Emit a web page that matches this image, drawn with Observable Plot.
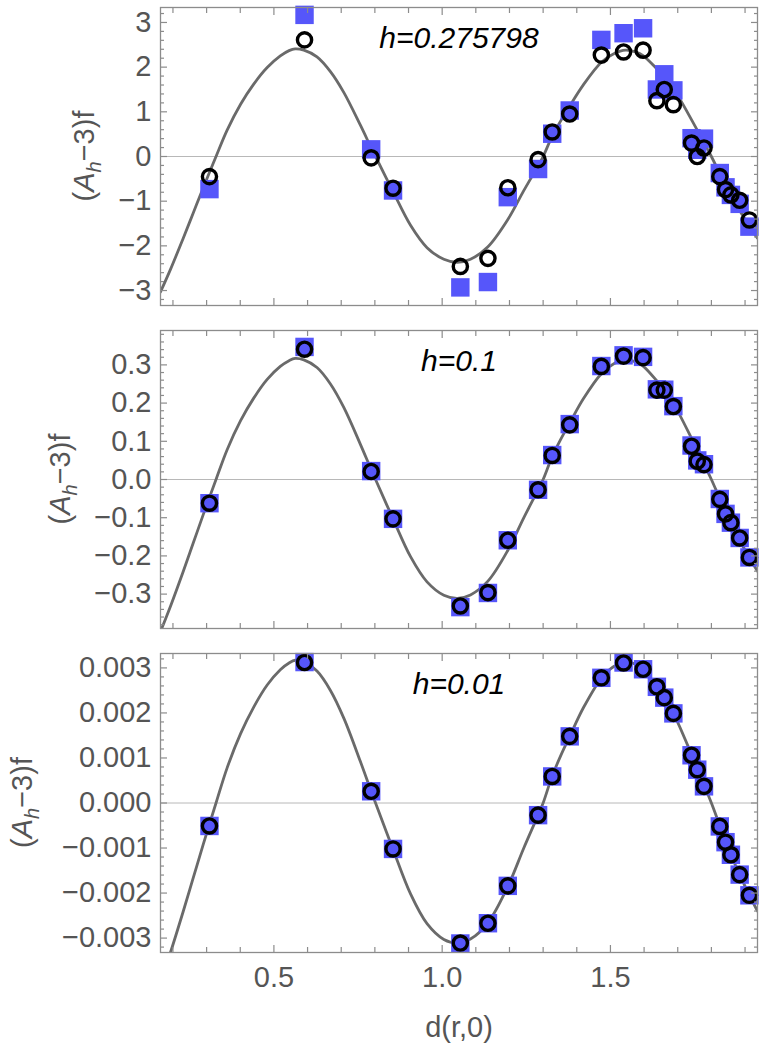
<!DOCTYPE html>
<html><head><meta charset="utf-8">
<script src="https://cdn.jsdelivr.net/npm/d3@7"></script>
<script src="https://cdn.jsdelivr.net/npm/@observablehq/plot@0.6"></script>
<style>
body{margin:0;background:#fff;}
#chart svg{display:block;}
</style></head><body><div id="chart"></div>
<script>
// ---- data ----
const pointD = [0.3085, 0.591, 0.789, 0.854, 1.054, 1.136, 1.195, 1.285, 1.327, 1.379, 1.473, 1.539, 1.597, 1.638, 1.660, 1.687, 1.741, 1.758, 1.778, 1.825, 1.842, 1.858, 1.884, 1.913];

const circ1 = [-0.45, 2.61, -0.03, -0.71, -2.46, -2.28, -0.70, -0.07, 0.55, 0.95, 2.27, 2.34, 2.38, 1.25, 1.50, 1.16, 0.30, 0.00, 0.19, -0.45, -0.74, -0.86, -0.98, -1.42];
const sq1   = [-0.73, 3.17, 0.16, -0.76, -2.93, -2.81, -0.91, -0.28, 0.51, 1.03, 2.61, 2.76, 2.87, 1.50, 1.84, 1.48, 0.41, 0.15, 0.40, -0.37, -0.69, -0.86, -1.06, -1.57];

const circ2 = [-0.062, 0.341, 0.021, -0.103, -0.331, -0.296, -0.159, -0.027, 0.063, 0.143, 0.296, 0.323, 0.319, 0.234, 0.234, 0.191, 0.087, 0.048, 0.039, -0.052, -0.090, -0.113, -0.153, -0.204];
const sq2   = [-0.062, 0.347, 0.022, -0.103, -0.334, -0.297, -0.159, -0.027, 0.064, 0.145, 0.297, 0.325, 0.321, 0.236, 0.235, 0.192, 0.089, 0.050, 0.040, -0.051, -0.090, -0.113, -0.153, -0.204];

const circ3 = [-0.00051, 0.00312, 0.00026, -0.00102, -0.00311, -0.00267, -0.00184, -0.00027, 0.00059, 0.00148, 0.00278, 0.00311, 0.00297, 0.00258, 0.00234, 0.00199, 0.00106, 0.00074, 0.00037, -0.00052, -0.00087, -0.00115, -0.00159, -0.00205];
const sq3   = [-0.00051, 0.00313, 0.00026, -0.00102, -0.00312, -0.00267, -0.00184, -0.00027, 0.00059, 0.00148, 0.00278, 0.00312, 0.00297, 0.00258, 0.00234, 0.00199, 0.00106, 0.00074, 0.00037, -0.00052, -0.00087, -0.00115, -0.00159, -0.00205];

const curveD = [0.163, 0.193, 0.230, 0.260, 0.290, 0.328, 0.361, 0.401, 0.440, 0.480, 0.519, 0.545, 0.563, 0.589, 0.628, 0.668, 0.708, 0.757, 0.790, 0.802, 0.853, 0.906, 0.955, 1.005, 1.045, 1.084, 1.136, 1.196, 1.242, 1.285, 1.300, 1.326, 1.351, 1.379, 1.420, 1.473, 1.510, 1.545, 1.575, 1.597, 1.638, 1.660, 1.688, 1.742, 1.780, 1.800, 1.826, 1.858, 1.884, 1.913, 1.937];
const curve1 = [-3.03, -2.52, -1.84, -1.27, -0.70, 0, 0.59, 1.17, 1.62, 1.99, 2.25, 2.37, 2.41, 2.38, 2.23, 1.90, 1.43, 0.70, 0.18, 0, -0.77, -1.54, -2.04, -2.30, -2.37, -2.30, -2.02, -1.40, -0.77, -0.21, 0, 0.44, 0.78, 1.13, 1.61, 2.11, 2.30, 2.38, 2.34, 2.26, 1.96, 1.78, 1.51, 0.81, 0.28, 0, -0.40, -0.87, -1.21, -1.56, -1.83];
const curve2 = [-0.398, -0.331, -0.242, -0.167, -0.092, 0, 0.078, 0.154, 0.213, 0.262, 0.296, 0.311, 0.317, 0.313, 0.293, 0.250, 0.188, 0.092, 0.024, 0, -0.101, -0.202, -0.268, -0.303, -0.311, -0.302, -0.266, -0.184, -0.101, -0.027, 0, 0.058, 0.103, 0.148, 0.212, 0.277, 0.303, 0.313, 0.308, 0.297, 0.258, 0.234, 0.198, 0.106, 0.037, 0, -0.052, -0.115, -0.159, -0.205, -0.240];
const curve3 = [-0.00398, -0.00331, -0.00242, -0.00167, -0.00092, 0, 0.00078, 0.00154, 0.00213, 0.00262, 0.00296, 0.00311, 0.00317, 0.00313, 0.00293, 0.00250, 0.00188, 0.00092, 0.00024, 0, -0.00101, -0.00202, -0.00268, -0.00303, -0.00311, -0.00302, -0.00266, -0.00184, -0.00101, -0.00027, 0, 0.00058, 0.00103, 0.00148, 0.00212, 0.00277, 0.00303, 0.00313, 0.00308, 0.00297, 0.00258, 0.00234, 0.00198, 0.00106, 0.00037, 0, -0.00052, -0.00115, -0.00159, -0.00205, -0.00240];

const hLabels = ["h=0.275798", "h=0.1", "h=0.01"];
const xMajor = [0.5, 1.0, 1.5];
const xTickLabels = ["0.5", "1.0", "1.5"];
const yMajor1 = [-3, -2, -1, 0, 1, 2, 3];
const yMajor2 = [-0.3, -0.2, -0.1, 0, 0.1, 0.2, 0.3];
const yMajor3 = [-0.003, -0.002, -0.001, 0, 0.001, 0.002, 0.003];
const yLabel = ["(", "A", "h", "−3)f"];
const xLabel = "d(r,0)";

// ---- styling ----
const FONT = "'Liberation Sans', Arial, sans-serif";
const GRAY = "#555";
const FRAME = "#8c8c8c";
const BLUE = "#5656fa";
const XDOM = [0.163, 1.937];

function minors(lo, hi, step, majors) {
  const out = [];
  for (let i = Math.ceil(lo / step - 1e-9); i * step <= hi + 1e-12; i++) {
    const v = +(i * step).toPrecision(8);
    if (!majors.some(m => Math.abs(m - v) < step / 10)) out.push(v);
  }
  return out;
}
const xMinor = minors(0.2, 1.9, 0.1, xMajor);

function tickAxes(yMajor, yMinor) {
  const s = {stroke: FRAME, strokeWidth: 1.2, tickFormat: () => "", label: null};
  return [
    Plot.axisY(yMajor, {...s, anchor: "left", tickSize: 7, dx: 7}),
    Plot.axisY(yMinor, {...s, anchor: "left", tickSize: 4, dx: 4}),
    Plot.axisY(yMajor, {...s, anchor: "right", tickSize: 7, dx: -7}),
    Plot.axisY(yMinor, {...s, anchor: "right", tickSize: 4, dx: -4}),
    Plot.axisX(xMajor, {...s, anchor: "bottom", tickSize: 7, dy: -7}),
    Plot.axisX(xMinor, {...s, anchor: "bottom", tickSize: 5, dy: -5}),
    Plot.axisX(xMajor, {...s, anchor: "top", tickSize: 7, dy: 7}),
    Plot.axisX(xMinor, {...s, anchor: "top", tickSize: 5, dy: 5})
  ];
}

function panel(o) {
  const curveRows = curveD.map((d, i) => ({d, v: o.curve[i]}));
  const pts = pointD.map((d, i) => ({d, sq: o.sq[i], ci: o.circ[i]}));
  const yMinor = minors(o.yDomain[0], o.yDomain[1], o.minorStep, o.yMajor);
  const svg = Plot.plot({
    width: 764, height: o.height,
    marginLeft: 160, marginRight: 7, marginTop: o.marginTop, marginBottom: o.marginBottom,
    style: {fontFamily: FONT, background: "white", overflow: "visible"},
    x: {domain: XDOM, axis: null},
    y: {domain: o.yDomain, axis: null},
    marks: [
      Plot.ruleY([0], {stroke: "#b8b8b8", strokeWidth: 1}),
      Plot.line(curveRows, {x: "d", y: "v", curve: "catmull-rom", stroke: "#6a6a6a", strokeWidth: 2.8, clip: true}),
      Plot.dot(pts, {x: "d", y: "sq", symbol: "square", r: 10.4, fill: BLUE, stroke: null}),
      Plot.dot(pts, {x: "d", y: "ci", r: 7.1, fill: "none", stroke: "black", strokeWidth: 3.4}),
      Plot.frame({stroke: FRAME, strokeWidth: 1.3}),
      ...tickAxes(o.yMajor, yMinor),
      Plot.axisY(o.yMajor, {anchor: "left", tickSize: 0, tickPadding: 9, tickFormat: o.yFormat, fontSize: 29, fill: GRAY, label: null}),
      o.showX ? Plot.axisX(xMajor, {anchor: "bottom", tickSize: 0, tickPadding: 14, tickFormat: (d, i) => xTickLabels[i], fontSize: 29, fill: GRAY, label: null}) : null,
      o.showX ? Plot.text([xLabel], {text: d => d, frameAnchor: "bottom", lineAnchor: "middle", dy: 75, fontSize: 29, fill: GRAY}) : null,
      Plot.text([o.label], {text: d => d, frameAnchor: "top", lineAnchor: "middle", dy: 31, fontSize: 30, fontStyle: "italic", fill: "black"})
    ]
  });
  const cy = o.marginTop + (o.height - o.marginTop - o.marginBottom) / 2;
  const t = d3.select(svg).append("text")
    .attr("transform", `translate(${o.labelX},${cy}) rotate(-90)`)
    .attr("text-anchor", "middle").attr("fill", GRAY)
    .attr("font-size", 29).attr("font-family", FONT);
  t.append("tspan").attr("dy", "0.35em").text(yLabel[0]);
  t.append("tspan").attr("font-style", "italic").text(yLabel[1]);
  t.append("tspan").attr("font-style", "italic").attr("font-size", 20).attr("dy", 7).text(yLabel[2]);
  t.append("tspan").attr("dy", -7).text(yLabel[3]);
  return svg;
}

const root = document.getElementById("chart");
root.appendChild(panel({curve: curve1, sq: sq1, circ: circ1, label: hLabels[0], yDomain: [-3.335, 3.335], yMajor: yMajor1, minorStep: 0.2, yFormat: d3.format("d"), height: 318, marginTop: 7, marginBottom: 13, labelX: 84}));
root.appendChild(panel({curve: curve2, sq: sq2, circ: circ2, label: hLabels[1], yDomain: [-0.39, 0.39], yMajor: yMajor2, minorStep: 0.02, yFormat: d3.format(".1f"), height: 322, marginTop: 12, marginBottom: 12, labelX: 60}));
root.appendChild(panel({curve: curve3, sq: sq3, circ: circ3, label: hLabels[2], yDomain: [-0.00332, 0.00332], yMajor: yMajor3, minorStep: 0.0002, yFormat: d3.format(".3f"), height: 410, marginTop: 13, marginBottom: 98, labelX: 22, showX: true}));
</script></body></html>
